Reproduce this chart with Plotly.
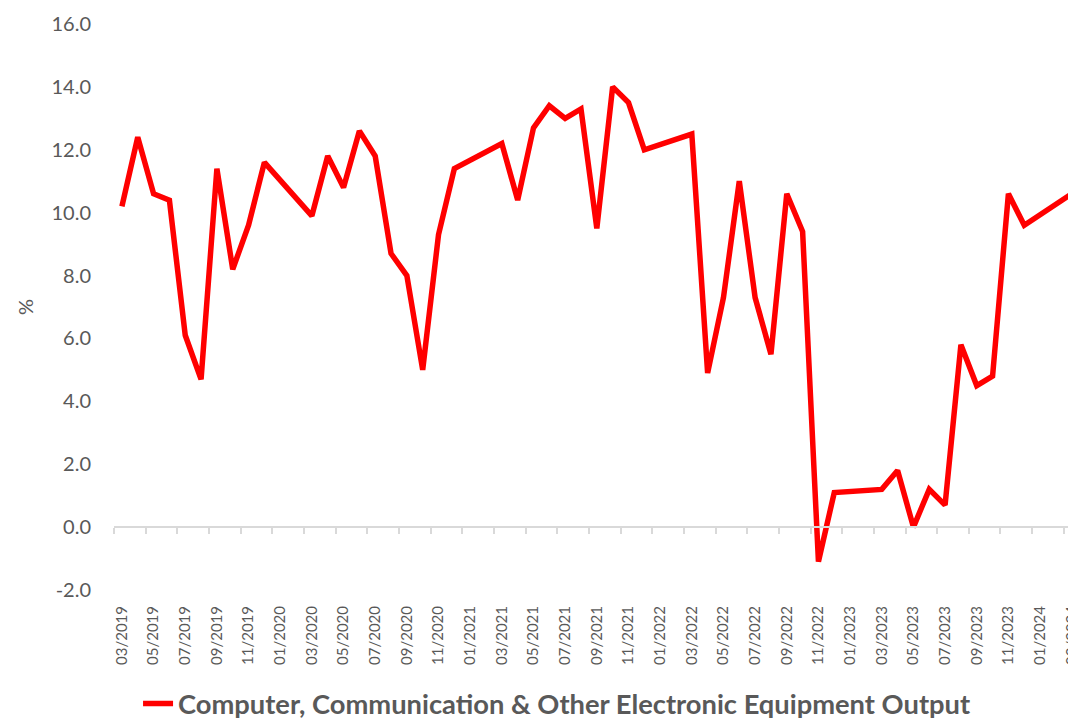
import plotly.graph_objects as go

months = [f"{m:02d}/{y}" for y in range(2019, 2025) for m in range(1, 13)]
months = months[months.index("03/2019"):months.index("03/2024") + 1]

# Output growth, % y/y (Jan/Feb not published separately -> None)
values = [
    10.2, 12.4, 10.6, 10.4, 6.1, 4.7, 11.4, 8.2, 9.6, 11.6,      # 03/2019-12/2019
    None, None, 9.9, 11.8, 10.8, 12.6, 11.8, 8.7, 8.0, 5.0, 9.3, 11.4,   # 2020
    None, None, 12.2, 10.4, 12.7, 13.4, 13.0, 13.3, 9.5, 14.0, 13.5, 12.0,  # 2021
    None, None, 12.5, 4.9, 7.3, 11.0, 7.3, 5.5, 10.6, 9.4, -1.1, 1.1,     # 2022
    None, None, 1.2, 1.8, 0.0, 1.2, 0.7, 5.8, 4.5, 4.8, 10.6, 9.6,        # 2023
    None, None, 10.6,                                                    # 2024
]
series_name = "Computer, Communication & Other Electronic Equipment Output"
y_ticks = [-2.0, 0.0, 2.0, 4.0, 6.0, 8.0, 10.0, 12.0, 14.0, 16.0]

idx = list(range(len(months)))
label_idx = idx[::2]
label_txt = [months[i] for i in label_idx]
edge_idx = [i - 0.5 for i in label_idx]

grey = "#595959"
axis_grey = "#D9D9D9"
font = "Lato, 'Open Sans', sans-serif"

fig = go.Figure()
fig.add_trace(go.Scatter(
    x=idx, y=values, mode="lines", name=series_name, connectgaps=True,
    line=dict(color="#FF0000", width=5.5),
))
# invisible trace on the overlay axis so it renders
fig.add_trace(go.Scatter(x=[0], y=[0], xaxis="x2", mode="markers",
                         marker=dict(opacity=0), showlegend=False, hoverinfo="skip"))

xr = [-0.5, 60.27]
fig.update_layout(
    width=1076, height=721,
    margin=dict(l=106, r=8, t=16, b=139, autoexpand=False),
    paper_bgcolor="white", plot_bgcolor="white",
    font=dict(family=font, color=grey),
    showlegend=True,
    legend=dict(orientation="h", x=0.025, xanchor="left", y=-0.201, yanchor="middle",
                font=dict(size=27.3, color=grey, family=font, weight="bold")),
    xaxis=dict(range=xr, tickmode="array", tickvals=label_idx, ticktext=label_txt,
               tickangle=-90, ticks="", showgrid=False, zeroline=False, showline=False,
               automargin=False,
               tickfont=dict(size=15, color=grey), ticklabelstandoff=12),
    xaxis2=dict(range=xr, overlaying="x", anchor="free", position=2 / 18,
                tickmode="array", tickvals=edge_idx, ticks="outside", ticklen=6,
                tickcolor=axis_grey, tickwidth=1.5, showticklabels=False,
                showline=True, linecolor=axis_grey, linewidth=1.5, automargin=False,
                showgrid=False, zeroline=False),
    yaxis=dict(range=[-2, 16], tickmode="array", tickvals=y_ticks,
               ticktext=[f"{v:.1f}" for v in y_ticks], showgrid=False, zeroline=False,
               showline=False, ticks="", tickfont=dict(size=20, color=grey),
               ticklabelstandoff=22, automargin=False,
               title=dict(text="%", font=dict(size=20, color=grey), standoff=12)),
)
fig.write_html("out.html")
